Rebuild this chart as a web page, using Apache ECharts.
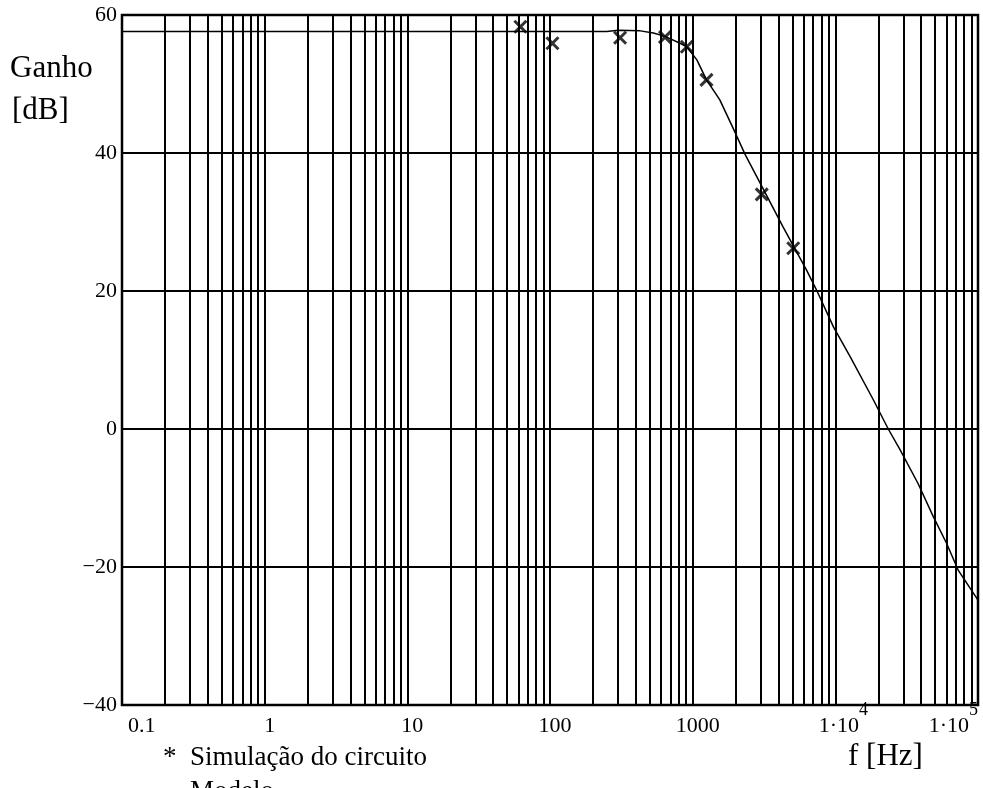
<!DOCTYPE html>
<html><head><meta charset="utf-8">
<script src="https://cdn.jsdelivr.net/npm/echarts@6/dist/echarts.min.js"></script>
<style>html,body{margin:0;padding:0;background:#fff}#c{width:983px;height:788px}</style>
</head><body><div id="c"></div><script>
// Simulated circuit points (crosses)
const simFreq = [62, 104, 310, 640, 910, 1250, 3050, 5070];
const simGain = [58.3, 55.9, 56.7, 56.8, 55.4, 50.6, 34.0, 26.2];
// Model curve
const modelFreq = [0.1, 1, 10, 100, 250, 300, 430, 530, 640, 815, 910, 1070, 1250, 1550, 1920, 2330, 2960, 4300, 6300, 7400, 9700, 12700, 18500, 23500, 28400, 38000, 48600, 60300, 72800, 100000];
const modelGain = [57.6, 57.6, 57.6, 57.6, 57.6, 57.8, 57.7, 57.4, 56.9, 55.9, 55.4, 53.5, 50.6, 47.7, 43.6, 39.8, 35.7, 29.3, 23.0, 20.1, 14.8, 10.5, 4.2, 0.0, -3.0, -7.9, -12.7, -16.6, -20.5, -24.8];
// Axis ticks
const xDecades = [0.1, 1, 10, 100, 1000, 10000, 100000];
const xTickLabels = ['{l|0.1}', '{c|1}', '{c|10}', '{c|100}', '{c|1000}', '{b4|1·10}{s|4}', '{b|1·10}{s|5}'];
const yTicks = [-40, -20, 0, 20, 40, 60];

const FONT = '"Liberation Serif", "Times New Roman", serif';

// vertical log grid lines (1..9 per decade)
const vLines = [];
for (let d = 0; d < xDecades.length - 1; d++) {
  for (let m = 1; m <= 9; m++) {
    if (d === 0 && m === 1) continue;
    vLines.push({ xAxis: xDecades[d] * m });
  }
}

const chart = echarts.init(document.getElementById('c'), null, { renderer: 'canvas' });
chart.setOption({
  backgroundColor: '#fff',
  animation: false,
  grid: { left: 122, right: 5, top: 15, bottom: 83, containLabel: false, outerBoundsMode: 'none',
    show: true, borderColor: '#000', borderWidth: 2.5, backgroundColor: 'transparent' },
  xAxis: {
    type: 'log', logBase: 10, min: xDecades[0], max: xDecades[xDecades.length - 1], splitNumber: 6,
    axisLine: { show: false }, axisTick: { show: false }, splitLine: { show: false },
    axisLabel: {
      margin: -7, color: '#000', fontFamily: FONT, fontSize: 22,
      showMinLabel: true, showMaxLabel: true, hideOverlap: false,
      alignMinLabel: 'left', alignMaxLabel: 'right',
      formatter: function (v) {
        const e = Math.round(Math.log10(v));
        const i = xDecades.findIndex(d => Math.round(Math.log10(d)) === e);
        return i >= 0 ? xTickLabels[i] : '';
      },
      rich: {
        l: { fontFamily: FONT, fontSize: 22, lineHeight: 22, color: '#000', padding: [34, 0, 0, 6] },
        c: { fontFamily: FONT, fontSize: 22, lineHeight: 22, color: '#000', padding: [34, 0, 0, 10] },
        b: { fontFamily: FONT, fontSize: 22, lineHeight: 22, color: '#000', padding: [34, 0, 0, 0] },
        b4: { fontFamily: FONT, fontSize: 22, lineHeight: 22, color: '#000', padding: [34, 0, 0, 16] },
        s: { fontFamily: FONT, fontSize: 18, lineHeight: 18, color: '#000', verticalAlign: 'top', padding: [3, 0, 0, 0] }
      }
    }
  },
  yAxis: {
    type: 'value', min: yTicks[0], max: yTicks[yTicks.length - 1], interval: 20,
    axisLine: { show: false }, axisTick: { show: false },
    splitLine: { show: true, lineStyle: { color: '#000', width: 2 } },
    axisLabel: { margin: 5, color: '#000', fontFamily: FONT, fontSize: 22,
      formatter: v => String(v).replace('-', '\u2212') }
  },
  series: [
    {
      type: 'line', data: [], silent: true,
      markLine: { silent: true, symbol: 'none', label: { show: false },
        lineStyle: { color: '#000', width: 2, type: 'solid' }, data: vLines },
      z: 1
    },
    {
      name: 'Modelo', type: 'line', showSymbol: false, silent: true,
      data: modelFreq.map((f, i) => [f, modelGain[i]]),
      lineStyle: { color: '#000', width: 1.5 }, z: 3
    },
    {
      name: 'Simulação do circuito', type: 'scatter', silent: true,
      data: simFreq.map((f, i) => [f, simGain[i]]),
      symbol: 'path://M0,0L10,10M10,0L0,10', symbolSize: 12,
      itemStyle: { color: 'none', borderColor: '#000', borderWidth: 3 }, z: 4
    }
  ],
  graphic: [
    { type: 'text', left: 10, top: 53, style: { text: 'Ganho', font: '31px ' + FONT, fill: '#000' } },
    { type: 'text', left: 12, top: 95, style: { text: '[dB]', font: '31px ' + FONT, fill: '#000' } },
    { type: 'text', left: 163, top: 744, style: { text: '*', font: '27px ' + FONT, fill: '#000' } },
    { type: 'text', left: 190, top: 744, style: { text: 'Simulação do circuito', font: '27px ' + FONT, fill: '#000' } },
    { type: 'text', left: 190, top: 778, style: { text: 'Modelo', font: '27px ' + FONT, fill: '#000' } },
    { type: 'text', left: 848, top: 741, style: { text: 'f [Hz]', font: '31px ' + FONT, fill: '#000' } }
  ]
});
</script></body></html>
